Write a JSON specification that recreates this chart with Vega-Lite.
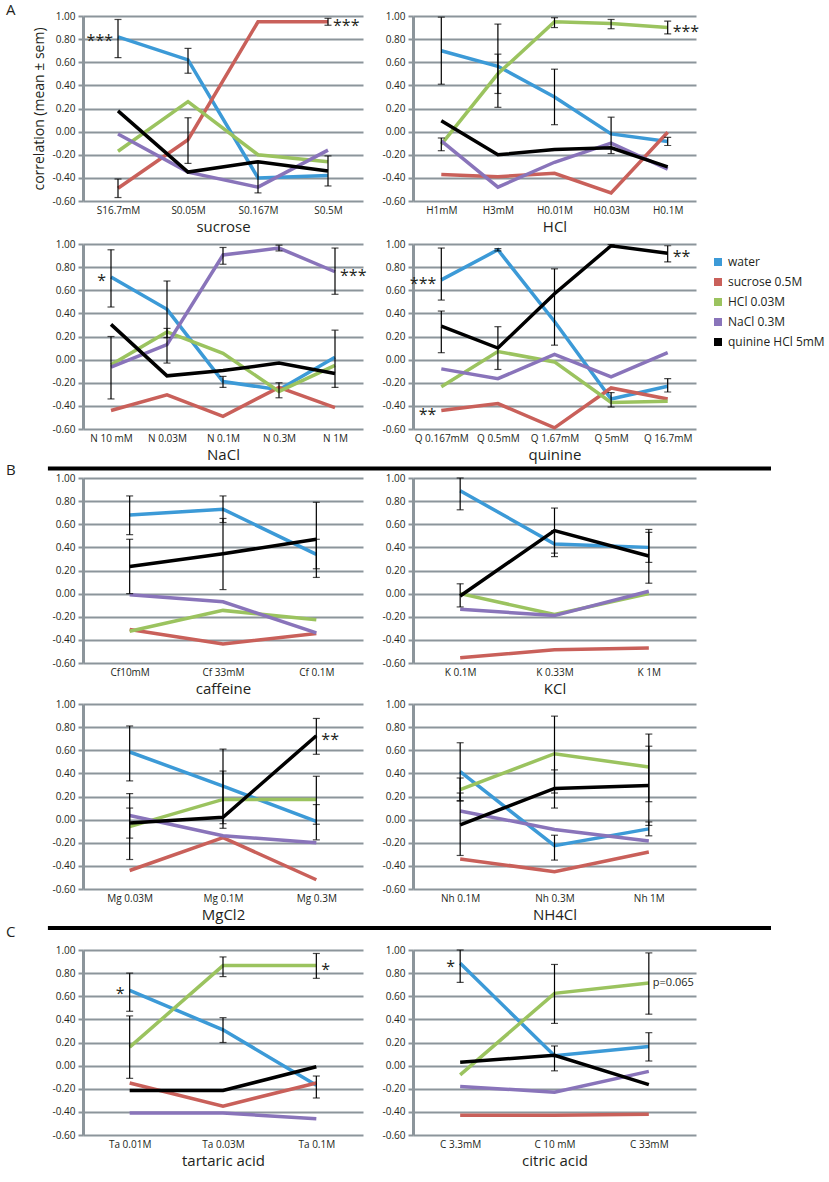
{
"$schema": "https://vega.github.io/schema/vega-lite/v6.json",
"padding": {"left": 5, "top": 3, "right": 0, "bottom": 0},
"title": {"text": "A", "anchor": "start", "fontSize": 15, "fontWeight": "normal", "offset": -7, "color": "#231f20"},
"datasets": {
"lines": [
{"p":"sucrose","c":"S16.7mM","s":"water","v":0.82},{"p":"sucrose","c":"S0.05M","s":"water","v":0.62},{"p":"sucrose","c":"S0.167M","s":"water","v":-0.40},{"p":"sucrose","c":"S0.5M","s":"water","v":-0.38},
{"p":"sucrose","c":"S16.7mM","s":"sucrose 0.5M","v":-0.49},{"p":"sucrose","c":"S0.05M","s":"sucrose 0.5M","v":-0.07},{"p":"sucrose","c":"S0.167M","s":"sucrose 0.5M","v":0.95},{"p":"sucrose","c":"S0.5M","s":"sucrose 0.5M","v":0.95},
{"p":"sucrose","c":"S16.7mM","s":"HCl 0.03M","v":-0.17},{"p":"sucrose","c":"S0.05M","s":"HCl 0.03M","v":0.26},{"p":"sucrose","c":"S0.167M","s":"HCl 0.03M","v":-0.20},{"p":"sucrose","c":"S0.5M","s":"HCl 0.03M","v":-0.26},
{"p":"sucrose","c":"S16.7mM","s":"NaCl 0.3M","v":-0.02},{"p":"sucrose","c":"S0.05M","s":"NaCl 0.3M","v":-0.35},{"p":"sucrose","c":"S0.167M","s":"NaCl 0.3M","v":-0.48},{"p":"sucrose","c":"S0.5M","s":"NaCl 0.3M","v":-0.16},
{"p":"sucrose","c":"S16.7mM","s":"quinine HCl 5mM","v":0.18},{"p":"sucrose","c":"S0.05M","s":"quinine HCl 5mM","v":-0.35},{"p":"sucrose","c":"S0.167M","s":"quinine HCl 5mM","v":-0.26},{"p":"sucrose","c":"S0.5M","s":"quinine HCl 5mM","v":-0.34},
{"p":"HCl","c":"H1mM","s":"water","v":0.70},{"p":"HCl","c":"H3mM","s":"water","v":0.565},{"p":"HCl","c":"H0.01M","s":"water","v":0.30},{"p":"HCl","c":"H0.03M","s":"water","v":-0.02},{"p":"HCl","c":"H0.1M","s":"water","v":-0.085},
{"p":"HCl","c":"H1mM","s":"sucrose 0.5M","v":-0.37},{"p":"HCl","c":"H3mM","s":"sucrose 0.5M","v":-0.39},{"p":"HCl","c":"H0.01M","s":"sucrose 0.5M","v":-0.36},{"p":"HCl","c":"H0.03M","s":"sucrose 0.5M","v":-0.53},{"p":"HCl","c":"H0.1M","s":"sucrose 0.5M","v":-0.005},
{"p":"HCl","c":"H1mM","s":"HCl 0.03M","v":-0.11},{"p":"HCl","c":"H3mM","s":"HCl 0.03M","v":0.50},{"p":"HCl","c":"H0.01M","s":"HCl 0.03M","v":0.95},{"p":"HCl","c":"H0.03M","s":"HCl 0.03M","v":0.935},{"p":"HCl","c":"H0.1M","s":"HCl 0.03M","v":0.90},
{"p":"HCl","c":"H1mM","s":"NaCl 0.3M","v":-0.08},{"p":"HCl","c":"H3mM","s":"NaCl 0.3M","v":-0.48},{"p":"HCl","c":"H0.01M","s":"NaCl 0.3M","v":-0.265},{"p":"HCl","c":"H0.03M","s":"NaCl 0.3M","v":-0.10},{"p":"HCl","c":"H0.1M","s":"NaCl 0.3M","v":-0.325},
{"p":"HCl","c":"H1mM","s":"quinine HCl 5mM","v":0.095},{"p":"HCl","c":"H3mM","s":"quinine HCl 5mM","v":-0.20},{"p":"HCl","c":"H0.01M","s":"quinine HCl 5mM","v":-0.155},{"p":"HCl","c":"H0.03M","s":"quinine HCl 5mM","v":-0.14},{"p":"HCl","c":"H0.1M","s":"quinine HCl 5mM","v":-0.305},
{"p":"NaCl","c":"N 10 mM","s":"water","v":0.715},{"p":"NaCl","c":"N 0.03M","s":"water","v":0.435},{"p":"NaCl","c":"N 0.1M","s":"water","v":-0.19},{"p":"NaCl","c":"N 0.3M","s":"water","v":-0.26},{"p":"NaCl","c":"N 1M","s":"water","v":0.02},
{"p":"NaCl","c":"N 10 mM","s":"sucrose 0.5M","v":-0.44},{"p":"NaCl","c":"N 0.03M","s":"sucrose 0.5M","v":-0.305},{"p":"NaCl","c":"N 0.1M","s":"sucrose 0.5M","v":-0.49},{"p":"NaCl","c":"N 0.3M","s":"sucrose 0.5M","v":-0.24},{"p":"NaCl","c":"N 1M","s":"sucrose 0.5M","v":-0.415},
{"p":"NaCl","c":"N 10 mM","s":"HCl 0.03M","v":-0.045},{"p":"NaCl","c":"N 0.03M","s":"HCl 0.03M","v":0.24},{"p":"NaCl","c":"N 0.1M","s":"HCl 0.03M","v":0.055},{"p":"NaCl","c":"N 0.3M","s":"HCl 0.03M","v":-0.275},{"p":"NaCl","c":"N 1M","s":"HCl 0.03M","v":-0.05},
{"p":"NaCl","c":"N 10 mM","s":"NaCl 0.3M","v":-0.065},{"p":"NaCl","c":"N 0.03M","s":"NaCl 0.3M","v":0.13},{"p":"NaCl","c":"N 0.1M","s":"NaCl 0.3M","v":0.905},{"p":"NaCl","c":"N 0.3M","s":"NaCl 0.3M","v":0.965},{"p":"NaCl","c":"N 1M","s":"NaCl 0.3M","v":0.76},
{"p":"NaCl","c":"N 10 mM","s":"quinine HCl 5mM","v":0.305},{"p":"NaCl","c":"N 0.03M","s":"quinine HCl 5mM","v":-0.14},{"p":"NaCl","c":"N 0.1M","s":"quinine HCl 5mM","v":-0.095},{"p":"NaCl","c":"N 0.3M","s":"quinine HCl 5mM","v":-0.03},{"p":"NaCl","c":"N 1M","s":"quinine HCl 5mM","v":-0.12},
{"p":"quinine","c":"Q 0.167mM","s":"water","v":0.69},{"p":"quinine","c":"Q 0.5mM","s":"water","v":0.95},{"p":"quinine","c":"Q 1.67mM","s":"water","v":0.33},{"p":"quinine","c":"Q 5mM","s":"water","v":-0.34},{"p":"quinine","c":"Q 16.7mM","s":"water","v":-0.23},
{"p":"quinine","c":"Q 0.167mM","s":"sucrose 0.5M","v":-0.44},{"p":"quinine","c":"Q 0.5mM","s":"sucrose 0.5M","v":-0.38},{"p":"quinine","c":"Q 1.67mM","s":"sucrose 0.5M","v":-0.59},{"p":"quinine","c":"Q 5mM","s":"sucrose 0.5M","v":-0.245},{"p":"quinine","c":"Q 16.7mM","s":"sucrose 0.5M","v":-0.34},
{"p":"quinine","c":"Q 0.167mM","s":"HCl 0.03M","v":-0.235},{"p":"quinine","c":"Q 0.5mM","s":"HCl 0.03M","v":0.07},{"p":"quinine","c":"Q 1.67mM","s":"HCl 0.03M","v":-0.02},{"p":"quinine","c":"Q 5mM","s":"HCl 0.03M","v":-0.37},{"p":"quinine","c":"Q 16.7mM","s":"HCl 0.03M","v":-0.36},
{"p":"quinine","c":"Q 0.167mM","s":"NaCl 0.3M","v":-0.08},{"p":"quinine","c":"Q 0.5mM","s":"NaCl 0.3M","v":-0.165},{"p":"quinine","c":"Q 1.67mM","s":"NaCl 0.3M","v":0.045},{"p":"quinine","c":"Q 5mM","s":"NaCl 0.3M","v":-0.15},{"p":"quinine","c":"Q 16.7mM","s":"NaCl 0.3M","v":0.06},
{"p":"quinine","c":"Q 0.167mM","s":"quinine HCl 5mM","v":0.29},{"p":"quinine","c":"Q 0.5mM","s":"quinine HCl 5mM","v":0.10},{"p":"quinine","c":"Q 1.67mM","s":"quinine HCl 5mM","v":0.57},{"p":"quinine","c":"Q 5mM","s":"quinine HCl 5mM","v":0.985},{"p":"quinine","c":"Q 16.7mM","s":"quinine HCl 5mM","v":0.92},
{"p":"caffeine","c":"Cf10mM","s":"water","v":0.68},{"p":"caffeine","c":"Cf 33mM","s":"water","v":0.73},{"p":"caffeine","c":"Cf 0.1M","s":"water","v":0.34},
{"p":"caffeine","c":"Cf10mM","s":"sucrose 0.5M","v":-0.31},{"p":"caffeine","c":"Cf 33mM","s":"sucrose 0.5M","v":-0.435},{"p":"caffeine","c":"Cf 0.1M","s":"sucrose 0.5M","v":-0.345},
{"p":"caffeine","c":"Cf10mM","s":"HCl 0.03M","v":-0.325},{"p":"caffeine","c":"Cf 33mM","s":"HCl 0.03M","v":-0.145},{"p":"caffeine","c":"Cf 0.1M","s":"HCl 0.03M","v":-0.225},
{"p":"caffeine","c":"Cf10mM","s":"NaCl 0.3M","v":-0.01},{"p":"caffeine","c":"Cf 33mM","s":"NaCl 0.3M","v":-0.07},{"p":"caffeine","c":"Cf 0.1M","s":"NaCl 0.3M","v":-0.34},
{"p":"caffeine","c":"Cf10mM","s":"quinine HCl 5mM","v":0.235},{"p":"caffeine","c":"Cf 33mM","s":"quinine HCl 5mM","v":0.345},{"p":"caffeine","c":"Cf 0.1M","s":"quinine HCl 5mM","v":0.47},
{"p":"KCl","c":"K 0.1M","s":"water","v":0.89},{"p":"KCl","c":"K 0.33M","s":"water","v":0.43},{"p":"KCl","c":"K 1M","s":"water","v":0.40},
{"p":"KCl","c":"K 0.1M","s":"sucrose 0.5M","v":-0.555},{"p":"KCl","c":"K 0.33M","s":"sucrose 0.5M","v":-0.485},{"p":"KCl","c":"K 1M","s":"sucrose 0.5M","v":-0.47},
{"p":"KCl","c":"K 0.1M","s":"HCl 0.03M","v":0.0},{"p":"KCl","c":"K 0.33M","s":"HCl 0.03M","v":-0.18},{"p":"KCl","c":"K 1M","s":"HCl 0.03M","v":0.0},
{"p":"KCl","c":"K 0.1M","s":"NaCl 0.3M","v":-0.135},{"p":"KCl","c":"K 0.33M","s":"NaCl 0.3M","v":-0.19},{"p":"KCl","c":"K 1M","s":"NaCl 0.3M","v":0.02},
{"p":"KCl","c":"K 0.1M","s":"quinine HCl 5mM","v":-0.02},{"p":"KCl","c":"K 0.33M","s":"quinine HCl 5mM","v":0.545},{"p":"KCl","c":"K 1M","s":"quinine HCl 5mM","v":0.325},
{"p":"MgCl2","c":"Mg 0.03M","s":"water","v":0.585},{"p":"MgCl2","c":"Mg 0.1M","s":"water","v":0.29},{"p":"MgCl2","c":"Mg 0.3M","s":"water","v":-0.015},
{"p":"MgCl2","c":"Mg 0.03M","s":"sucrose 0.5M","v":-0.44},{"p":"MgCl2","c":"Mg 0.1M","s":"sucrose 0.5M","v":-0.155},{"p":"MgCl2","c":"Mg 0.3M","s":"sucrose 0.5M","v":-0.52},
{"p":"MgCl2","c":"Mg 0.03M","s":"HCl 0.03M","v":-0.06},{"p":"MgCl2","c":"Mg 0.1M","s":"HCl 0.03M","v":0.175},{"p":"MgCl2","c":"Mg 0.3M","s":"HCl 0.03M","v":0.175},
{"p":"MgCl2","c":"Mg 0.03M","s":"NaCl 0.3M","v":0.035},{"p":"MgCl2","c":"Mg 0.1M","s":"NaCl 0.3M","v":-0.14},{"p":"MgCl2","c":"Mg 0.3M","s":"NaCl 0.3M","v":-0.20},
{"p":"MgCl2","c":"Mg 0.03M","s":"quinine HCl 5mM","v":-0.03},{"p":"MgCl2","c":"Mg 0.1M","s":"quinine HCl 5mM","v":0.02},{"p":"MgCl2","c":"Mg 0.3M","s":"quinine HCl 5mM","v":0.725},
{"p":"NH4Cl","c":"Nh 0.1M","s":"water","v":0.415},{"p":"NH4Cl","c":"Nh 0.3M","s":"water","v":-0.225},{"p":"NH4Cl","c":"Nh 1M","s":"water","v":-0.08},
{"p":"NH4Cl","c":"Nh 0.1M","s":"sucrose 0.5M","v":-0.34},{"p":"NH4Cl","c":"Nh 0.3M","s":"sucrose 0.5M","v":-0.45},{"p":"NH4Cl","c":"Nh 1M","s":"sucrose 0.5M","v":-0.28},
{"p":"NH4Cl","c":"Nh 0.1M","s":"HCl 0.03M","v":0.26},{"p":"NH4Cl","c":"Nh 0.3M","s":"HCl 0.03M","v":0.57},{"p":"NH4Cl","c":"Nh 1M","s":"HCl 0.03M","v":0.455},
{"p":"NH4Cl","c":"Nh 0.1M","s":"NaCl 0.3M","v":0.075},{"p":"NH4Cl","c":"Nh 0.3M","s":"NaCl 0.3M","v":-0.085},{"p":"NH4Cl","c":"Nh 1M","s":"NaCl 0.3M","v":-0.185},
{"p":"NH4Cl","c":"Nh 0.1M","s":"quinine HCl 5mM","v":-0.045},{"p":"NH4Cl","c":"Nh 0.3M","s":"quinine HCl 5mM","v":0.27},{"p":"NH4Cl","c":"Nh 1M","s":"quinine HCl 5mM","v":0.295},
{"p":"tartaric","c":"Ta 0.01M","s":"water","v":0.65},{"p":"tartaric","c":"Ta 0.03M","s":"water","v":0.31},{"p":"tartaric","c":"Ta 0.1M","s":"water","v":-0.17},
{"p":"tartaric","c":"Ta 0.01M","s":"sucrose 0.5M","v":-0.15},{"p":"tartaric","c":"Ta 0.03M","s":"sucrose 0.5M","v":-0.35},{"p":"tartaric","c":"Ta 0.1M","s":"sucrose 0.5M","v":-0.15},
{"p":"tartaric","c":"Ta 0.01M","s":"HCl 0.03M","v":0.16},{"p":"tartaric","c":"Ta 0.03M","s":"HCl 0.03M","v":0.865},{"p":"tartaric","c":"Ta 0.1M","s":"HCl 0.03M","v":0.865},
{"p":"tartaric","c":"Ta 0.01M","s":"NaCl 0.3M","v":-0.41},{"p":"tartaric","c":"Ta 0.03M","s":"NaCl 0.3M","v":-0.41},{"p":"tartaric","c":"Ta 0.1M","s":"NaCl 0.3M","v":-0.46},
{"p":"tartaric","c":"Ta 0.01M","s":"quinine HCl 5mM","v":-0.215},{"p":"tartaric","c":"Ta 0.03M","s":"quinine HCl 5mM","v":-0.215},{"p":"tartaric","c":"Ta 0.1M","s":"quinine HCl 5mM","v":-0.01},
{"p":"citric","c":"C 3.3mM","s":"water","v":0.885},{"p":"citric","c":"C 10 mM","s":"water","v":0.085},{"p":"citric","c":"C 33mM","s":"water","v":0.165},
{"p":"citric","c":"C 3.3mM","s":"sucrose 0.5M","v":-0.43},{"p":"citric","c":"C 10 mM","s":"sucrose 0.5M","v":-0.43},{"p":"citric","c":"C 33mM","s":"sucrose 0.5M","v":-0.42},
{"p":"citric","c":"C 3.3mM","s":"HCl 0.03M","v":-0.08},{"p":"citric","c":"C 10 mM","s":"HCl 0.03M","v":0.625},{"p":"citric","c":"C 33mM","s":"HCl 0.03M","v":0.715},
{"p":"citric","c":"C 3.3mM","s":"NaCl 0.3M","v":-0.18},{"p":"citric","c":"C 10 mM","s":"NaCl 0.3M","v":-0.23},{"p":"citric","c":"C 33mM","s":"NaCl 0.3M","v":-0.05},
{"p":"citric","c":"C 3.3mM","s":"quinine HCl 5mM","v":0.03},{"p":"citric","c":"C 10 mM","s":"quinine HCl 5mM","v":0.09},{"p":"citric","c":"C 33mM","s":"quinine HCl 5mM","v":-0.165}
],
"errs": [
{"p":"sucrose","c":"S16.7mM","s":"water","lo":0.64,"hi":0.97},{"p":"sucrose","c":"S0.05M","s":"water","lo":0.505,"hi":0.72},{"p":"sucrose","c":"S0.167M","s":"water","lo":-0.53,"hi":-0.27},{"p":"sucrose","c":"S0.5M","s":"water","lo":-0.47,"hi":-0.21},
{"p":"sucrose","c":"S16.7mM","s":"sucrose 0.5M","lo":-0.57,"hi":-0.41},{"p":"sucrose","c":"S0.05M","s":"sucrose 0.5M","lo":-0.275,"hi":0.12},{"p":"sucrose","c":"S0.5M","s":"sucrose 0.5M","lo":0.92,"hi":0.98},
{"p":"HCl","c":"H1mM","s":"water","lo":0.41,"hi":0.99},{"p":"HCl","c":"H1mM","s":"HCl 0.03M","lo":-0.165,"hi":-0.055},
{"p":"HCl","c":"H3mM","s":"water","lo":0.21,"hi":0.93},{"p":"HCl","c":"H3mM","s":"HCl 0.03M","lo":0.33,"hi":0.67},
{"p":"HCl","c":"H0.01M","s":"water","lo":0.06,"hi":0.54},{"p":"HCl","c":"H0.01M","s":"HCl 0.03M","lo":0.90,"hi":0.985},
{"p":"HCl","c":"H0.03M","s":"water","lo":-0.19,"hi":0.125},{"p":"HCl","c":"H0.03M","s":"HCl 0.03M","lo":0.89,"hi":0.97},
{"p":"HCl","c":"H0.1M","s":"water","lo":-0.12,"hi":-0.05},{"p":"HCl","c":"H0.1M","s":"HCl 0.03M","lo":0.845,"hi":0.955},
{"p":"NaCl","c":"N 10 mM","s":"water","lo":0.455,"hi":0.95},{"p":"NaCl","c":"N 10 mM","s":"NaCl 0.3M","lo":-0.34,"hi":0.20},
{"p":"NaCl","c":"N 0.03M","s":"water","lo":0.19,"hi":0.68},{"p":"NaCl","c":"N 0.03M","s":"NaCl 0.3M","lo":-0.03,"hi":0.27},
{"p":"NaCl","c":"N 0.1M","s":"water","lo":-0.24,"hi":-0.145},{"p":"NaCl","c":"N 0.1M","s":"NaCl 0.3M","lo":0.825,"hi":0.97},
{"p":"NaCl","c":"N 0.3M","s":"water","lo":-0.33,"hi":-0.20},{"p":"NaCl","c":"N 0.3M","s":"NaCl 0.3M","lo":0.94,"hi":0.99},
{"p":"NaCl","c":"N 1M","s":"water","lo":-0.24,"hi":0.255},{"p":"NaCl","c":"N 1M","s":"NaCl 0.3M","lo":0.565,"hi":0.965},
{"p":"quinine","c":"Q 0.167mM","s":"water","lo":0.515,"hi":0.965},{"p":"quinine","c":"Q 0.167mM","s":"quinine HCl 5mM","lo":0.06,"hi":0.42},
{"p":"quinine","c":"Q 0.5mM","s":"water","lo":0.94,"hi":0.96},{"p":"quinine","c":"Q 0.5mM","s":"quinine HCl 5mM","lo":-0.085,"hi":0.285},
{"p":"quinine","c":"Q 1.67mM","s":"quinine HCl 5mM","lo":0.125,"hi":0.785},
{"p":"quinine","c":"Q 5mM","s":"water","lo":-0.41,"hi":-0.285},{"p":"quinine","c":"Q 5mM","s":"quinine HCl 5mM","lo":0.975,"hi":0.995},
{"p":"quinine","c":"Q 16.7mM","s":"water","lo":-0.28,"hi":-0.165},{"p":"quinine","c":"Q 16.7mM","s":"quinine HCl 5mM","lo":0.845,"hi":0.985},
{"p":"caffeine","c":"Cf10mM","s":"water","lo":0.51,"hi":0.845},{"p":"caffeine","c":"Cf10mM","s":"quinine HCl 5mM","lo":0.0,"hi":0.47},
{"p":"caffeine","c":"Cf 33mM","s":"water","lo":0.615,"hi":0.845},{"p":"caffeine","c":"Cf 33mM","s":"quinine HCl 5mM","lo":0.035,"hi":0.65},
{"p":"caffeine","c":"Cf 0.1M","s":"water","lo":0.215,"hi":0.47},{"p":"caffeine","c":"Cf 0.1M","s":"quinine HCl 5mM","lo":0.14,"hi":0.79},
{"p":"KCl","c":"K 0.1M","s":"water","lo":0.725,"hi":1.0},{"p":"KCl","c":"K 0.1M","s":"quinine HCl 5mM","lo":-0.115,"hi":0.085},
{"p":"KCl","c":"K 0.33M","s":"water","lo":0.32,"hi":0.545},{"p":"KCl","c":"K 0.33M","s":"quinine HCl 5mM","lo":0.35,"hi":0.74},
{"p":"KCl","c":"K 1M","s":"water","lo":0.27,"hi":0.53},{"p":"KCl","c":"K 1M","s":"quinine HCl 5mM","lo":0.09,"hi":0.555},
{"p":"MgCl2","c":"Mg 0.03M","s":"water","lo":0.335,"hi":0.81},{"p":"MgCl2","c":"Mg 0.03M","s":"HCl 0.03M","lo":-0.345,"hi":0.225},{"p":"MgCl2","c":"Mg 0.03M","s":"quinine HCl 5mM","lo":-0.16,"hi":0.10},
{"p":"MgCl2","c":"Mg 0.1M","s":"water","lo":-0.035,"hi":0.61},{"p":"MgCl2","c":"Mg 0.1M","s":"HCl 0.03M","lo":-0.075,"hi":0.42},
{"p":"MgCl2","c":"Mg 0.3M","s":"quinine HCl 5mM","lo":0.565,"hi":0.875},{"p":"MgCl2","c":"Mg 0.3M","s":"HCl 0.03M","lo":-0.04,"hi":0.375},{"p":"MgCl2","c":"Mg 0.3M","s":"water","lo":-0.175,"hi":0.13},
{"p":"NH4Cl","c":"Nh 0.1M","s":"water","lo":0.165,"hi":0.665},{"p":"NH4Cl","c":"Nh 0.1M","s":"HCl 0.03M","lo":0.16,"hi":0.36},{"p":"NH4Cl","c":"Nh 0.1M","s":"quinine HCl 5mM","lo":-0.31,"hi":0.23},
{"p":"NH4Cl","c":"Nh 0.3M","s":"HCl 0.03M","lo":0.23,"hi":0.895},{"p":"NH4Cl","c":"Nh 0.3M","s":"quinine HCl 5mM","lo":0.10,"hi":0.43},{"p":"NH4Cl","c":"Nh 0.3M","s":"water","lo":-0.35,"hi":-0.135},
{"p":"NH4Cl","c":"Nh 1M","s":"HCl 0.03M","lo":0.155,"hi":0.74},{"p":"NH4Cl","c":"Nh 1M","s":"quinine HCl 5mM","lo":-0.05,"hi":0.635},{"p":"NH4Cl","c":"Nh 1M","s":"water","lo":-0.14,"hi":-0.02},
{"p":"tartaric","c":"Ta 0.01M","s":"water","lo":0.47,"hi":0.80},{"p":"tartaric","c":"Ta 0.01M","s":"HCl 0.03M","lo":-0.11,"hi":0.43},
{"p":"tartaric","c":"Ta 0.03M","s":"HCl 0.03M","lo":0.77,"hi":0.94},{"p":"tartaric","c":"Ta 0.03M","s":"water","lo":0.20,"hi":0.415},
{"p":"tartaric","c":"Ta 0.1M","s":"HCl 0.03M","lo":0.755,"hi":0.97},{"p":"tartaric","c":"Ta 0.1M","s":"water","lo":-0.28,"hi":-0.09},
{"p":"citric","c":"C 3.3mM","s":"water","lo":0.72,"hi":1.0},
{"p":"citric","c":"C 10 mM","s":"HCl 0.03M","lo":0.365,"hi":0.875},{"p":"citric","c":"C 10 mM","s":"quinine HCl 5mM","lo":-0.045,"hi":0.17},
{"p":"citric","c":"C 33mM","s":"HCl 0.03M","lo":0.445,"hi":0.975},{"p":"citric","c":"C 33mM","s":"water","lo":0.04,"hi":0.285}
],
"notes": [
{"p":"sucrose","c":"S16.7mM","v":0.82,"t":"***"},{"p":"sucrose","c":"S0.5M","v":0.95,"t":"***"},
{"p":"HCl","c":"H0.1M","v":0.90,"t":"***"},
{"p":"NaCl","c":"N 10 mM","v":0.715,"t":"*"},{"p":"NaCl","c":"N 1M","v":0.76,"t":"***"},
{"p":"quinine","c":"Q 0.167mM","v":0.69,"t":"***"},{"p":"quinine","c":"Q 0.167mM","v":-0.44,"t":"**"},{"p":"quinine","c":"Q 16.7mM","v":0.92,"t":"**"},
{"p":"MgCl2","c":"Mg 0.3M","v":0.725,"t":"**"},
{"p":"tartaric","c":"Ta 0.01M","v":0.65,"t":"*"},{"p":"tartaric","c":"Ta 0.1M","v":0.865,"t":"*"},
{"p":"citric","c":"C 3.3mM","v":0.885,"t":"*"},{"p":"citric","c":"C 33mM","v":0.715,"t":"p=0.065"}
]
},
"spacing": -8,
"resolve": {"scale": {"color": "independent"}},
"vconcat": [
{
"concat": [
{
"width": 280, "height": 185,
"encoding": {
"x": {"field": "c", "type": "nominal", "title": "sucrose", "scale": {"type": "point", "padding": 0.5, "domain": ["S16.7mM","S0.05M","S0.167M","S0.5M"]}},
"y": {"field": "v", "type": "quantitative", "scale": {"domain": [-0.6, 1], "nice": false, "zero": false}, "axis": {"values": [-0.6,-0.4,-0.2,0,0.2,0.4,0.6,0.8,1], "format": ".2f", "title": "correlation (mean ± sem)", "titleX": -44, "titleY": 92.5, "titleAngle": 270, "titleBaseline": "middle", "titleAlign": "center", "titleFontSize": 14}}
},
"layer": [
{"data": {"name": "lines"}, "transform": [{"filter": "datum.p == 'sucrose'"}], "mark": {"type": "line", "strokeWidth": 3.5}, "encoding": {"color": {"field": "s", "type": "nominal", "scale": {"domain": ["water","sucrose 0.5M","HCl 0.03M","NaCl 0.3M","quinine HCl 5mM"], "range": ["#3c9ad7","#c9605a","#9bc35f","#8974ba","#000000"]}, "legend": null}}},
{"data": {"name": "errs"}, "transform": [{"filter": "datum.p == 'sucrose'"}], "mark": {"type": "rule", "color": "black", "strokeWidth": 1.2}, "encoding": {"y": {"field": "lo", "type": "quantitative", "title": null}, "y2": {"field": "hi"}}},
{"data": {"name": "errs"}, "transform": [{"filter": "datum.p == 'sucrose'"}], "mark": {"type": "tick", "color": "black", "thickness": 1.2, "size": 7}, "encoding": {"y": {"field": "lo", "type": "quantitative", "title": null}}},
{"data": {"name": "errs"}, "transform": [{"filter": "datum.p == 'sucrose'"}], "mark": {"type": "tick", "color": "black", "thickness": 1.2, "size": 7}, "encoding": {"y": {"field": "hi", "type": "quantitative", "title": null}}},
{"data": {"name": "notes"}, "transform": [{"filter": "datum.p == 'sucrose' && datum.c == 'S16.7mM'"}], "mark": {"type": "text", "align": "right", "baseline": "middle", "dx": -5, "dy": 4, "fontSize": 16, "color": "#231f20"}, "encoding": {"text": {"field": "t"}}},
{"data": {"name": "notes"}, "transform": [{"filter": "datum.p == 'sucrose' && datum.c == 'S0.5M'"}], "mark": {"type": "text", "align": "left", "baseline": "middle", "dx": 5, "dy": 4, "fontSize": 16, "color": "#231f20"}, "encoding": {"text": {"field": "t"}}}
]
},
{
"width": 283, "height": 185,
"encoding": {
"x": {"field": "c", "type": "nominal", "title": "HCl", "scale": {"type": "point", "padding": 0.5, "domain": ["H1mM","H3mM","H0.01M","H0.03M","H0.1M"]}},
"y": {"field": "v", "type": "quantitative", "scale": {"domain": [-0.6, 1], "nice": false, "zero": false}, "axis": {"values": [-0.6,-0.4,-0.2,0,0.2,0.4,0.6,0.8,1], "format": ".2f", "title": null}}
},
"layer": [
{"data": {"name": "lines"}, "transform": [{"filter": "datum.p == 'HCl'"}], "mark": {"type": "line", "strokeWidth": 3.5}, "encoding": {"color": {"field": "s", "type": "nominal", "scale": {"domain": ["water","sucrose 0.5M","HCl 0.03M","NaCl 0.3M","quinine HCl 5mM"], "range": ["#3c9ad7","#c9605a","#9bc35f","#8974ba","#000000"]}, "legend": null}}},
{"data": {"name": "errs"}, "transform": [{"filter": "datum.p == 'HCl'"}], "mark": {"type": "rule", "color": "black", "strokeWidth": 1.2}, "encoding": {"y": {"field": "lo", "type": "quantitative", "title": null}, "y2": {"field": "hi"}}},
{"data": {"name": "errs"}, "transform": [{"filter": "datum.p == 'HCl'"}], "mark": {"type": "tick", "color": "black", "thickness": 1.2, "size": 7}, "encoding": {"y": {"field": "lo", "type": "quantitative", "title": null}}},
{"data": {"name": "errs"}, "transform": [{"filter": "datum.p == 'HCl'"}], "mark": {"type": "tick", "color": "black", "thickness": 1.2, "size": 7}, "encoding": {"y": {"field": "hi", "type": "quantitative", "title": null}}},
{"data": {"name": "notes"}, "transform": [{"filter": "datum.p == 'HCl' && datum.c == 'H0.1M'"}], "mark": {"type": "text", "align": "left", "baseline": "middle", "dx": 5, "dy": 4, "fontSize": 16, "color": "#231f20"}, "encoding": {"text": {"field": "t"}}}
]
},
{
"width": 280, "height": 185,
"encoding": {
"x": {"field": "c", "type": "nominal", "title": "NaCl", "scale": {"type": "point", "padding": 0.5, "domain": ["N 10 mM","N 0.03M","N 0.1M","N 0.3M","N 1M"]}},
"y": {"field": "v", "type": "quantitative", "scale": {"domain": [-0.6, 1], "nice": false, "zero": false}, "axis": {"values": [-0.6,-0.4,-0.2,0,0.2,0.4,0.6,0.8,1], "format": ".2f", "title": null}}
},
"layer": [
{"data": {"name": "lines"}, "transform": [{"filter": "datum.p == 'NaCl'"}], "mark": {"type": "line", "strokeWidth": 3.5}, "encoding": {"color": {"field": "s", "type": "nominal", "scale": {"domain": ["water","sucrose 0.5M","HCl 0.03M","NaCl 0.3M","quinine HCl 5mM"], "range": ["#3c9ad7","#c9605a","#9bc35f","#8974ba","#000000"]}, "legend": null}}},
{"data": {"name": "errs"}, "transform": [{"filter": "datum.p == 'NaCl'"}], "mark": {"type": "rule", "color": "black", "strokeWidth": 1.2}, "encoding": {"y": {"field": "lo", "type": "quantitative", "title": null}, "y2": {"field": "hi"}}},
{"data": {"name": "errs"}, "transform": [{"filter": "datum.p == 'NaCl'"}], "mark": {"type": "tick", "color": "black", "thickness": 1.2, "size": 7}, "encoding": {"y": {"field": "lo", "type": "quantitative", "title": null}}},
{"data": {"name": "errs"}, "transform": [{"filter": "datum.p == 'NaCl'"}], "mark": {"type": "tick", "color": "black", "thickness": 1.2, "size": 7}, "encoding": {"y": {"field": "hi", "type": "quantitative", "title": null}}},
{"data": {"name": "notes"}, "transform": [{"filter": "datum.p == 'NaCl' && datum.c == 'N 10 mM'"}], "mark": {"type": "text", "align": "right", "baseline": "middle", "dx": -5, "dy": 4, "fontSize": 16, "color": "#231f20"}, "encoding": {"text": {"field": "t"}}},
{"data": {"name": "notes"}, "transform": [{"filter": "datum.p == 'NaCl' && datum.c == 'N 1M'"}], "mark": {"type": "text", "align": "left", "baseline": "middle", "dx": 5, "dy": 4, "fontSize": 16, "color": "#231f20"}, "encoding": {"text": {"field": "t"}}}
]
},
{
"width": 283, "height": 185,
"encoding": {
"x": {"field": "c", "type": "nominal", "title": "quinine", "scale": {"type": "point", "padding": 0.5, "domain": ["Q 0.167mM","Q 0.5mM","Q 1.67mM","Q 5mM","Q 16.7mM"]}},
"y": {"field": "v", "type": "quantitative", "scale": {"domain": [-0.6, 1], "nice": false, "zero": false}, "axis": {"values": [-0.6,-0.4,-0.2,0,0.2,0.4,0.6,0.8,1], "format": ".2f", "title": null}}
},
"layer": [
{"data": {"name": "lines"}, "transform": [{"filter": "datum.p == 'quinine'"}], "mark": {"type": "line", "strokeWidth": 3.5}, "encoding": {"color": {"field": "s", "type": "nominal", "scale": {"domain": ["water","sucrose 0.5M","HCl 0.03M","NaCl 0.3M","quinine HCl 5mM"], "range": ["#3c9ad7","#c9605a","#9bc35f","#8974ba","#000000"]}, "legend": {"orient": "none", "legendX": 299, "legendY": 12, "title": null, "symbolType": "square", "symbolSize": 9, "symbolStrokeWidth": 5, "labelFontSize": 12, "labelColor": "#231f20", "rowPadding": -4, "labelOffset": 4}}}},
{"data": {"name": "errs"}, "transform": [{"filter": "datum.p == 'quinine'"}], "mark": {"type": "rule", "color": "black", "strokeWidth": 1.2}, "encoding": {"y": {"field": "lo", "type": "quantitative", "title": null}, "y2": {"field": "hi"}}},
{"data": {"name": "errs"}, "transform": [{"filter": "datum.p == 'quinine'"}], "mark": {"type": "tick", "color": "black", "thickness": 1.2, "size": 7}, "encoding": {"y": {"field": "lo", "type": "quantitative", "title": null}}},
{"data": {"name": "errs"}, "transform": [{"filter": "datum.p == 'quinine'"}], "mark": {"type": "tick", "color": "black", "thickness": 1.2, "size": 7}, "encoding": {"y": {"field": "hi", "type": "quantitative", "title": null}}},
{"data": {"name": "notes"}, "transform": [{"filter": "datum.p == 'quinine' && datum.c == 'Q 0.167mM'"}], "mark": {"type": "text", "align": "right", "baseline": "middle", "dx": -5, "dy": 4, "fontSize": 16, "color": "#231f20"}, "encoding": {"text": {"field": "t"}}},
{"data": {"name": "notes"}, "transform": [{"filter": "datum.p == 'quinine' && datum.c == 'Q 16.7mM'"}], "mark": {"type": "text", "align": "left", "baseline": "middle", "dx": 5, "dy": 4, "fontSize": 16, "color": "#231f20"}, "encoding": {"text": {"field": "t"}}}
]
}
],
"columns": 2, "bounds": "flush", "spacing": {"row": 43, "column": 50},
"resolve": {"scale": {"color": "independent"}}
},
{
"width": 688, "height": 15,
"data": {"values": [{"t": "B"}]},
"layer": [
{"mark": {"type": "rule", "color": "black", "strokeWidth": 4}, "encoding": {"x": {"datum": -0.051, "type": "quantitative", "scale": {"domain": [0, 1]}, "axis": null}, "x2": {"datum": 1}, "y": {"datum": 0.567, "type": "quantitative", "scale": {"domain": [0, 1]}, "axis": null}}},
{"mark": {"type": "text", "align": "left", "baseline": "middle", "fontSize": 15, "color": "#231f20"}, "encoding": {"x": {"datum": -0.112, "type": "quantitative"}, "y": {"datum": 0.5, "type": "quantitative"}, "text": {"field": "t"}}}
]
},
{
"concat": [
{
"width": 280, "height": 185,
"encoding": {
"x": {"field": "c", "type": "nominal", "title": "caffeine", "scale": {"type": "point", "padding": 0.5, "domain": ["Cf10mM","Cf 33mM","Cf 0.1M"]}},
"y": {"field": "v", "type": "quantitative", "scale": {"domain": [-0.6, 1], "nice": false, "zero": false}, "axis": {"values": [-0.6,-0.4,-0.2,0,0.2,0.4,0.6,0.8,1], "format": ".2f", "title": null}}
},
"layer": [
{"data": {"name": "lines"}, "transform": [{"filter": "datum.p == 'caffeine'"}], "mark": {"type": "line", "strokeWidth": 3.5}, "encoding": {"color": {"field": "s", "type": "nominal", "scale": {"domain": ["water","sucrose 0.5M","HCl 0.03M","NaCl 0.3M","quinine HCl 5mM"], "range": ["#3c9ad7","#c9605a","#9bc35f","#8974ba","#000000"]}, "legend": null}}},
{"data": {"name": "errs"}, "transform": [{"filter": "datum.p == 'caffeine'"}], "mark": {"type": "rule", "color": "black", "strokeWidth": 1.2}, "encoding": {"y": {"field": "lo", "type": "quantitative", "title": null}, "y2": {"field": "hi"}}},
{"data": {"name": "errs"}, "transform": [{"filter": "datum.p == 'caffeine'"}], "mark": {"type": "tick", "color": "black", "thickness": 1.2, "size": 7}, "encoding": {"y": {"field": "lo", "type": "quantitative", "title": null}}},
{"data": {"name": "errs"}, "transform": [{"filter": "datum.p == 'caffeine'"}], "mark": {"type": "tick", "color": "black", "thickness": 1.2, "size": 7}, "encoding": {"y": {"field": "hi", "type": "quantitative", "title": null}}}
]
},
{
"width": 283, "height": 185,
"encoding": {
"x": {"field": "c", "type": "nominal", "title": "KCl", "scale": {"type": "point", "padding": 0.5, "domain": ["K 0.1M","K 0.33M","K 1M"]}},
"y": {"field": "v", "type": "quantitative", "scale": {"domain": [-0.6, 1], "nice": false, "zero": false}, "axis": {"values": [-0.6,-0.4,-0.2,0,0.2,0.4,0.6,0.8,1], "format": ".2f", "title": null}}
},
"layer": [
{"data": {"name": "lines"}, "transform": [{"filter": "datum.p == 'KCl'"}], "mark": {"type": "line", "strokeWidth": 3.5}, "encoding": {"color": {"field": "s", "type": "nominal", "scale": {"domain": ["water","sucrose 0.5M","HCl 0.03M","NaCl 0.3M","quinine HCl 5mM"], "range": ["#3c9ad7","#c9605a","#9bc35f","#8974ba","#000000"]}, "legend": null}}},
{"data": {"name": "errs"}, "transform": [{"filter": "datum.p == 'KCl'"}], "mark": {"type": "rule", "color": "black", "strokeWidth": 1.2}, "encoding": {"y": {"field": "lo", "type": "quantitative", "title": null}, "y2": {"field": "hi"}}},
{"data": {"name": "errs"}, "transform": [{"filter": "datum.p == 'KCl'"}], "mark": {"type": "tick", "color": "black", "thickness": 1.2, "size": 7}, "encoding": {"y": {"field": "lo", "type": "quantitative", "title": null}}},
{"data": {"name": "errs"}, "transform": [{"filter": "datum.p == 'KCl'"}], "mark": {"type": "tick", "color": "black", "thickness": 1.2, "size": 7}, "encoding": {"y": {"field": "hi", "type": "quantitative", "title": null}}}
]
},
{
"width": 280, "height": 185,
"encoding": {
"x": {"field": "c", "type": "nominal", "title": "MgCl2", "scale": {"type": "point", "padding": 0.5, "domain": ["Mg 0.03M","Mg 0.1M","Mg 0.3M"]}},
"y": {"field": "v", "type": "quantitative", "scale": {"domain": [-0.6, 1], "nice": false, "zero": false}, "axis": {"values": [-0.6,-0.4,-0.2,0,0.2,0.4,0.6,0.8,1], "format": ".2f", "title": null}}
},
"layer": [
{"data": {"name": "lines"}, "transform": [{"filter": "datum.p == 'MgCl2'"}], "mark": {"type": "line", "strokeWidth": 3.5}, "encoding": {"color": {"field": "s", "type": "nominal", "scale": {"domain": ["water","sucrose 0.5M","HCl 0.03M","NaCl 0.3M","quinine HCl 5mM"], "range": ["#3c9ad7","#c9605a","#9bc35f","#8974ba","#000000"]}, "legend": null}}},
{"data": {"name": "errs"}, "transform": [{"filter": "datum.p == 'MgCl2'"}], "mark": {"type": "rule", "color": "black", "strokeWidth": 1.2}, "encoding": {"y": {"field": "lo", "type": "quantitative", "title": null}, "y2": {"field": "hi"}}},
{"data": {"name": "errs"}, "transform": [{"filter": "datum.p == 'MgCl2'"}], "mark": {"type": "tick", "color": "black", "thickness": 1.2, "size": 7}, "encoding": {"y": {"field": "lo", "type": "quantitative", "title": null}}},
{"data": {"name": "errs"}, "transform": [{"filter": "datum.p == 'MgCl2'"}], "mark": {"type": "tick", "color": "black", "thickness": 1.2, "size": 7}, "encoding": {"y": {"field": "hi", "type": "quantitative", "title": null}}},
{"data": {"name": "notes"}, "transform": [{"filter": "datum.p == 'MgCl2' && datum.c == 'Mg 0.3M'"}], "mark": {"type": "text", "align": "left", "baseline": "middle", "dx": 5, "dy": 4, "fontSize": 16, "color": "#231f20"}, "encoding": {"text": {"field": "t"}}}
]
},
{
"width": 283, "height": 185,
"encoding": {
"x": {"field": "c", "type": "nominal", "title": "NH4Cl", "scale": {"type": "point", "padding": 0.5, "domain": ["Nh 0.1M","Nh 0.3M","Nh 1M"]}},
"y": {"field": "v", "type": "quantitative", "scale": {"domain": [-0.6, 1], "nice": false, "zero": false}, "axis": {"values": [-0.6,-0.4,-0.2,0,0.2,0.4,0.6,0.8,1], "format": ".2f", "title": null}}
},
"layer": [
{"data": {"name": "lines"}, "transform": [{"filter": "datum.p == 'NH4Cl'"}], "mark": {"type": "line", "strokeWidth": 3.5}, "encoding": {"color": {"field": "s", "type": "nominal", "scale": {"domain": ["water","sucrose 0.5M","HCl 0.03M","NaCl 0.3M","quinine HCl 5mM"], "range": ["#3c9ad7","#c9605a","#9bc35f","#8974ba","#000000"]}, "legend": null}}},
{"data": {"name": "errs"}, "transform": [{"filter": "datum.p == 'NH4Cl'"}], "mark": {"type": "rule", "color": "black", "strokeWidth": 1.2}, "encoding": {"y": {"field": "lo", "type": "quantitative", "title": null}, "y2": {"field": "hi"}}},
{"data": {"name": "errs"}, "transform": [{"filter": "datum.p == 'NH4Cl'"}], "mark": {"type": "tick", "color": "black", "thickness": 1.2, "size": 7}, "encoding": {"y": {"field": "lo", "type": "quantitative", "title": null}}},
{"data": {"name": "errs"}, "transform": [{"filter": "datum.p == 'NH4Cl'"}], "mark": {"type": "tick", "color": "black", "thickness": 1.2, "size": 7}, "encoding": {"y": {"field": "hi", "type": "quantitative", "title": null}}}
]
}
],
"columns": 2, "bounds": "flush", "spacing": {"row": 41, "column": 50},
"resolve": {"scale": {"color": "independent"}}
},
{
"width": 688, "height": 27.5,
"data": {"values": [{"t": "C"}]},
"layer": [
{"mark": {"type": "rule", "color": "black", "strokeWidth": 4}, "encoding": {"x": {"datum": -0.051, "type": "quantitative", "scale": {"domain": [0, 1]}, "axis": null}, "x2": {"datum": 1}, "y": {"datum": 0.782, "type": "quantitative", "scale": {"domain": [0, 1]}, "axis": null}}},
{"mark": {"type": "text", "align": "left", "baseline": "middle", "fontSize": 15, "color": "#231f20"}, "encoding": {"x": {"datum": -0.112, "type": "quantitative"}, "y": {"datum": 0.636, "type": "quantitative"}, "text": {"field": "t"}}}
]
},
{
"concat": [
{
"width": 280, "height": 185,
"encoding": {
"x": {"field": "c", "type": "nominal", "title": "tartaric acid", "scale": {"type": "point", "padding": 0.5, "domain": ["Ta 0.01M","Ta 0.03M","Ta 0.1M"]}},
"y": {"field": "v", "type": "quantitative", "scale": {"domain": [-0.6, 1], "nice": false, "zero": false}, "axis": {"values": [-0.6,-0.4,-0.2,0,0.2,0.4,0.6,0.8,1], "format": ".2f", "title": null}}
},
"layer": [
{"data": {"name": "lines"}, "transform": [{"filter": "datum.p == 'tartaric'"}], "mark": {"type": "line", "strokeWidth": 3.5}, "encoding": {"color": {"field": "s", "type": "nominal", "scale": {"domain": ["water","sucrose 0.5M","HCl 0.03M","NaCl 0.3M","quinine HCl 5mM"], "range": ["#3c9ad7","#c9605a","#9bc35f","#8974ba","#000000"]}, "legend": null}}},
{"data": {"name": "errs"}, "transform": [{"filter": "datum.p == 'tartaric'"}], "mark": {"type": "rule", "color": "black", "strokeWidth": 1.2}, "encoding": {"y": {"field": "lo", "type": "quantitative", "title": null}, "y2": {"field": "hi"}}},
{"data": {"name": "errs"}, "transform": [{"filter": "datum.p == 'tartaric'"}], "mark": {"type": "tick", "color": "black", "thickness": 1.2, "size": 7}, "encoding": {"y": {"field": "lo", "type": "quantitative", "title": null}}},
{"data": {"name": "errs"}, "transform": [{"filter": "datum.p == 'tartaric'"}], "mark": {"type": "tick", "color": "black", "thickness": 1.2, "size": 7}, "encoding": {"y": {"field": "hi", "type": "quantitative", "title": null}}},
{"data": {"name": "notes"}, "transform": [{"filter": "datum.p == 'tartaric' && datum.c == 'Ta 0.01M'"}], "mark": {"type": "text", "align": "right", "baseline": "middle", "dx": -5, "dy": 4, "fontSize": 16, "color": "#231f20"}, "encoding": {"text": {"field": "t"}}},
{"data": {"name": "notes"}, "transform": [{"filter": "datum.p == 'tartaric' && datum.c == 'Ta 0.1M'"}], "mark": {"type": "text", "align": "left", "baseline": "middle", "dx": 5, "dy": 4, "fontSize": 16, "color": "#231f20"}, "encoding": {"text": {"field": "t"}}}
]
},
{
"width": 283, "height": 185,
"encoding": {
"x": {"field": "c", "type": "nominal", "title": "citric acid", "scale": {"type": "point", "padding": 0.5, "domain": ["C 3.3mM","C 10 mM","C 33mM"]}},
"y": {"field": "v", "type": "quantitative", "scale": {"domain": [-0.6, 1], "nice": false, "zero": false}, "axis": {"values": [-0.6,-0.4,-0.2,0,0.2,0.4,0.6,0.8,1], "format": ".2f", "title": null}}
},
"layer": [
{"data": {"name": "lines"}, "transform": [{"filter": "datum.p == 'citric'"}], "mark": {"type": "line", "strokeWidth": 3.5}, "encoding": {"color": {"field": "s", "type": "nominal", "scale": {"domain": ["water","sucrose 0.5M","HCl 0.03M","NaCl 0.3M","quinine HCl 5mM"], "range": ["#3c9ad7","#c9605a","#9bc35f","#8974ba","#000000"]}, "legend": null}}},
{"data": {"name": "errs"}, "transform": [{"filter": "datum.p == 'citric'"}], "mark": {"type": "rule", "color": "black", "strokeWidth": 1.2}, "encoding": {"y": {"field": "lo", "type": "quantitative", "title": null}, "y2": {"field": "hi"}}},
{"data": {"name": "errs"}, "transform": [{"filter": "datum.p == 'citric'"}], "mark": {"type": "tick", "color": "black", "thickness": 1.2, "size": 7}, "encoding": {"y": {"field": "lo", "type": "quantitative", "title": null}}},
{"data": {"name": "errs"}, "transform": [{"filter": "datum.p == 'citric'"}], "mark": {"type": "tick", "color": "black", "thickness": 1.2, "size": 7}, "encoding": {"y": {"field": "hi", "type": "quantitative", "title": null}}},
{"data": {"name": "notes"}, "transform": [{"filter": "datum.p == 'citric' && datum.c == 'C 3.3mM'"}], "mark": {"type": "text", "align": "right", "baseline": "middle", "dx": -5, "dy": 4, "fontSize": 16, "color": "#231f20"}, "encoding": {"text": {"field": "t"}}},
{"data": {"name": "notes"}, "transform": [{"filter": "datum.p == 'citric' && datum.c == 'C 33mM'"}], "mark": {"type": "text", "align": "left", "baseline": "middle", "dx": 4, "dy": 0, "fontSize": 11, "color": "#231f20"}, "encoding": {"text": {"field": "t"}}}
]
}
],
"columns": 2, "bounds": "flush", "spacing": {"row": 41, "column": 50},
"resolve": {"scale": {"color": "independent"}}
}
],
"config": {
"font": "Open Sans",
"view": {"stroke": null},
"locale": {"number": {"decimal": ".", "thousands": ",", "grouping": [3], "currency": ["$", ""], "minus": "-"}},
"axis": {"labelFontSize": 10, "labelColor": "#231f20", "titleColor": "#231f20", "titleFontWeight": "normal"},
"axisY": {"minExtent": 77, "domainColor": "#8c959b", "domainWidth": 3, "tickColor": "#8c959b", "tickWidth": 2, "tickSize": 5, "gridColor": "#8c959b", "gridWidth": 2, "labelPadding": 3},
"axisX": {"domain": false, "ticks": false, "grid": false, "labelAngle": 0, "labelPadding": 4, "labelOverlap": false, "titleFontSize": 15, "titlePadding": 4}
}
}
